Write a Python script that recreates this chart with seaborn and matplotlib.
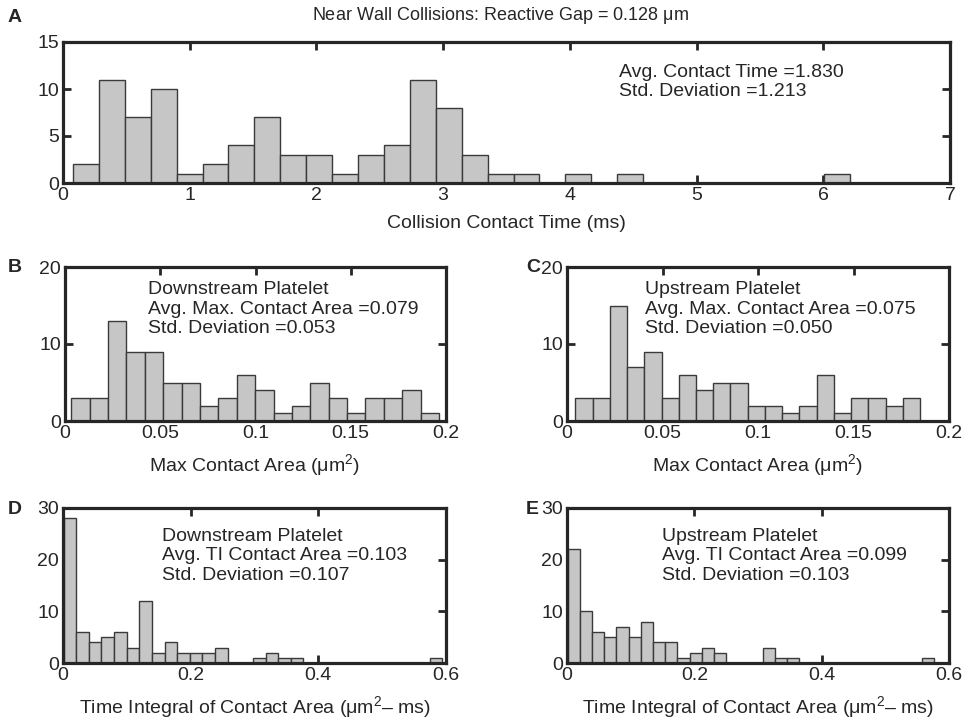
import numpy as np
import pandas as pd
import matplotlib
matplotlib.use("Agg")
import matplotlib.pyplot as plt
import seaborn as sns

# histogram counts (85 collisions)
time_counts = [2, 11, 7, 10, 1, 2, 4, 7, 3, 3, 1, 3, 4, 11, 8, 3, 1, 1, 0, 1,
               0, 1, 0, 0, 0, 0, 0, 0, 0, 1]
time_range = (0.079, 6.214)

down_area_counts = [3, 3, 13, 9, 9, 5, 5, 2, 3, 6, 4, 1, 2, 5, 3, 1, 3, 3, 4, 1]
down_area_range = (0.0033, 0.1963)

up_area_counts = [3, 3, 15, 7, 9, 3, 6, 4, 5, 5, 2, 2, 1, 2, 6, 1, 3, 3, 2, 3]
up_area_range = (0.0044, 0.1848)

down_ti_counts = [28, 6, 4, 5, 6, 3, 12, 2, 4, 2, 2, 2, 3, 0, 0, 1, 2, 1, 1, 0,
                  0, 0, 0, 0, 0, 0, 0, 0, 0, 1]
down_ti_range = (0.001, 0.594)

up_ti_counts = [22, 10, 6, 5, 7, 5, 8, 4, 4, 1, 2, 3, 2, 0, 0, 0, 3, 1, 1, 0,
                0, 0, 0, 0, 0, 0, 0, 0, 0, 1]
up_ti_range = (0.001, 0.576)

sns.set_style("ticks")
plt.rcParams["font.family"] = ["Liberation Sans", "DejaVu Sans"]
plt.rcParams["mathtext.fontset"] = "custom"
plt.rcParams["mathtext.rm"] = "Liberation Sans"
plt.rcParams["mathtext.it"] = "Liberation Sans"

W, H = 963, 722
fig = plt.figure(figsize=(W / 100, H / 100), dpi=100)


def add_ax(left, top, right, bottom):
    return fig.add_axes([left / W, 1 - bottom / H, (right - left) / W, (bottom - top) / H])


def hist(ax, counts, rng, xlim, ylim, xticks, yticks):
    edges = np.linspace(rng[0], rng[1], len(counts) + 1)
    df = pd.DataFrame({"v": (edges[:-1] + edges[1:]) / 2, "n": counts})
    sns.histplot(data=df, x="v", weights="n", bins=edges.tolist(), ax=ax,
                 color="#c6c6c6", edgecolor="#3a3a3a", linewidth=1.0, alpha=1)
    ax.set_xlim(*xlim)
    ax.set_ylim(*ylim)
    ax.set_xticks(xticks)
    ax.set_xticklabels(["%g" % t for t in xticks])
    ax.set_yticks(yticks)
    ax.set_ylabel("")
    ax.set_xlabel("")
    for s in ax.spines.values():
        s.set_linewidth(2.3)
        s.set_visible(True)
    ax.tick_params(direction="in", top=True, right=True, length=6, width=2,
                   labelsize=14, pad=3)


axA = add_ax(63, 42, 950, 183)
hist(axA, time_counts, time_range, (0, 7), (0, 15), list(range(8)), [0, 5, 10, 15])
axB = add_ax(65, 267, 446, 421)
hist(axB, down_area_counts, down_area_range, (0, 0.2), (0, 20),
     [0, 0.05, 0.1, 0.15, 0.2], [0, 10, 20])
axC = add_ax(567, 267, 949, 421)
hist(axC, up_area_counts, up_area_range, (0, 0.2), (0, 20),
     [0, 0.05, 0.1, 0.15, 0.2], [0, 10, 20])
axD = add_ax(63, 508, 446, 663)
hist(axD, down_ti_counts, down_ti_range, (0, 0.6), (0, 30),
     [0, 0.2, 0.4, 0.6], [0, 10, 20, 30])
axE = add_ax(567, 508, 949, 663)
hist(axE, up_ti_counts, up_ti_range, (0, 0.6), (0, 30),
     [0, 0.2, 0.4, 0.6], [0, 10, 20, 30])


def ftext(x, y, s, **kw):
    fig.text(x / W, 1 - y / H, s, **kw)


ftext(500, 16, r"Near Wall Collisions: Reactive Gap = 0.128 $\mu$m", ha="center", va="center", fontsize=13)
for letter, (x, y) in zip("ABCDE", [(8, 17), (8, 268), (526, 268), (8, 510), (526, 510)]):
    ftext(x, y, letter, fontsize=14, fontweight="bold", va="center")

ftext(506, 223, "Collision Contact Time (ms)", ha="center", va="center", fontsize=14)
ftext(255, 465, r"Max Contact Area ($\mu$m$^2$)", ha="center", va="center", fontsize=14)
ftext(758, 465, r"Max Contact Area ($\mu$m$^2$)", ha="center", va="center", fontsize=14)
ftext(255, 707, r"Time Integral of Contact Area ($\mu$m$^2$– ms)", ha="center", va="center", fontsize=14)
ftext(758, 707, r"Time Integral of Contact Area ($\mu$m$^2$– ms)", ha="center", va="center", fontsize=14)

ftext(619, 82, "Avg. Contact Time =1.830\nStd. Deviation =1.213", va="center", fontsize=14)
ftext(148, 309, "Downstream Platelet\nAvg. Max. Contact Area =0.079\nStd. Deviation =0.053", va="center", fontsize=14)
ftext(645, 309, "Upstream Platelet\nAvg. Max. Contact Area =0.075\nStd. Deviation =0.050", va="center", fontsize=14)
ftext(162, 556, "Downstream Platelet\nAvg. TI Contact Area =0.103\nStd. Deviation =0.107", va="center", fontsize=14)
ftext(662, 556, "Upstream Platelet\nAvg. TI Contact Area =0.099\nStd. Deviation =0.103", va="center", fontsize=14)

fig.savefig("out.png", dpi=100)
